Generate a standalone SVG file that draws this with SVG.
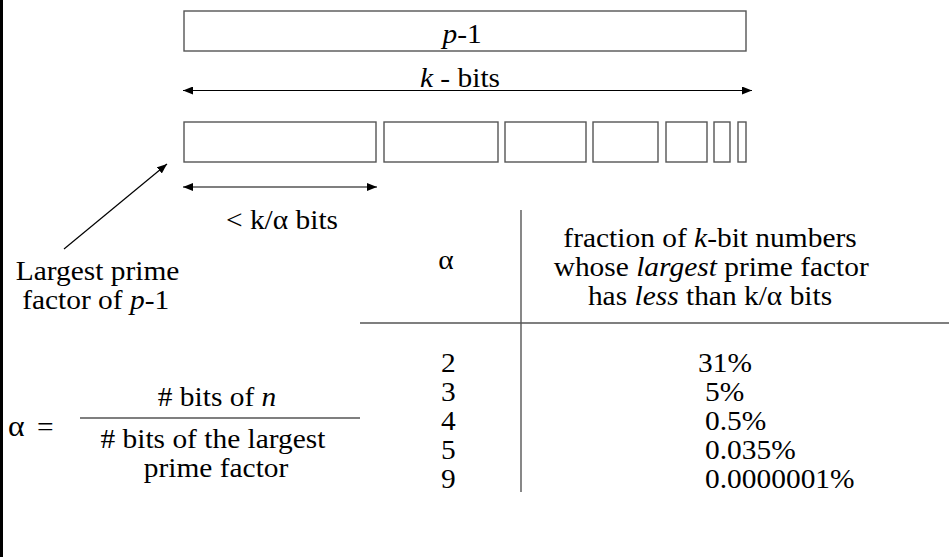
<svg xmlns="http://www.w3.org/2000/svg" width="949" height="557" viewBox="0 0 949 557">
  <style>
    text { font-family: "Liberation Serif", "Times New Roman", serif; font-size: 27px; fill: #000; }
    .c { text-anchor: middle; }
    .i { font-style: italic; }
    .seg { fill: #fff; stroke: #555; stroke-width: 1.4; }
    .rule { stroke: #555; stroke-width: 1.4; fill: none; }
    .dim { stroke: #000; stroke-width: 1.2; fill: none; }
  </style>
  <defs>
    <marker id="head" viewBox="0 0 10 8" refX="10" refY="4" markerWidth="10" markerHeight="8" markerUnits="userSpaceOnUse" orient="auto-start-reverse">
      <path d="M0,0 L10,4 L0,8 Z" fill="#000"/>
    </marker>
  </defs>

  <!-- left frame edge -->
  <rect x="0" y="0" width="3" height="557" fill="#000"/>

  <!-- shapes -->
  <g id="whole-box">
    <rect class="seg" x="184" y="11" width="562" height="40"/>
  </g>
  <g id="factors">
    <rect class="seg" x="184" y="122" width="192" height="40"/>
    <rect class="seg" x="384" y="122" width="114" height="40"/>
    <rect class="seg" x="505" y="122" width="81" height="40"/>
    <rect class="seg" x="593" y="122" width="65" height="40"/>
    <rect class="seg" x="666" y="122" width="41" height="40"/>
    <rect class="seg" x="714" y="122" width="16" height="40"/>
    <rect class="seg" x="738" y="122" width="8" height="40"/>
  </g>
  <g id="table-rules">
    <line class="rule" x1="360" y1="323" x2="949" y2="323"/>
    <line class="rule" x1="521" y1="210" x2="521" y2="492"/>
  </g>
  <g id="fraction-bar">
    <line class="rule" x1="80" y1="418" x2="360" y2="418"/>
  </g>

  <!-- connectors -->
  <g id="connectors">
    <line class="dim" x1="183" y1="90.5" x2="752" y2="90.5" marker-start="url(#head)" marker-end="url(#head)"/>
    <line class="dim" x1="183" y1="187" x2="377" y2="187" marker-start="url(#head)" marker-end="url(#head)"/>
    <line class="dim" x1="64" y1="249" x2="167" y2="164" marker-end="url(#head)"/>
  </g>

  <!-- labels: set in a slightly widened face (x coordinates are divided by 1.09) -->
  <g id="labels" transform="scale(1.09 1)">
    <g id="whole-label">
      <text class="c" x="423.9" y="43"><tspan class="i">p</tspan>-1</text>
    </g>
    <g id="k-bits">
      <text class="c" x="422" y="87"><tspan class="i">k</tspan> - bits</text>
    </g>
    <g id="bound-label">
      <text x="207.3" y="229">&lt; k/α bits</text>
    </g>
    <g id="largest-label">
      <text class="c" x="89.5" y="280">Largest prime</text>
      <text class="c" x="87.8" y="309">factor of <tspan class="i">p</tspan>-1</text>
    </g>
    <g id="alpha-def">
      <text x="7.3" y="436"><tspan font-size="29">α</tspan><tspan x="33.9">=</tspan></text>
      <text class="c" x="199.1" y="406"># bits of <tspan class="i">n</tspan></text>
      <text class="c" x="195.4" y="448"># bits of the largest</text>
      <text class="c" x="198.2" y="477">prime factor</text>
    </g>
    <g id="table-head">
      <text class="c" x="409.2" y="269" font-size="29">α</text>
      <text class="c" x="651.4" y="247">fraction of <tspan class="i">k</tspan>-bit numbers</text>
      <text class="c" x="652.5" y="276">whose <tspan class="i">largest</tspan> prime factor</text>
      <text class="c" x="651.4" y="305">has <tspan class="i">less</tspan> than k/α bits</text>
    </g>
    <g id="table-rows">
      <text x="404.6" y="372">2</text>
      <text x="404.6" y="401">3</text>
      <text x="404.6" y="430">4</text>
      <text x="404.6" y="459">5</text>
      <text x="404.6" y="488">9</text>
      <text x="640.4" y="372">31%</text>
      <text x="646.8" y="401">5%</text>
      <text x="646.8" y="430">0.5%</text>
      <text x="646.8" y="459">0.035%</text>
      <text x="646.8" y="488">0.0000001%</text>
    </g>
  </g>
</svg>
